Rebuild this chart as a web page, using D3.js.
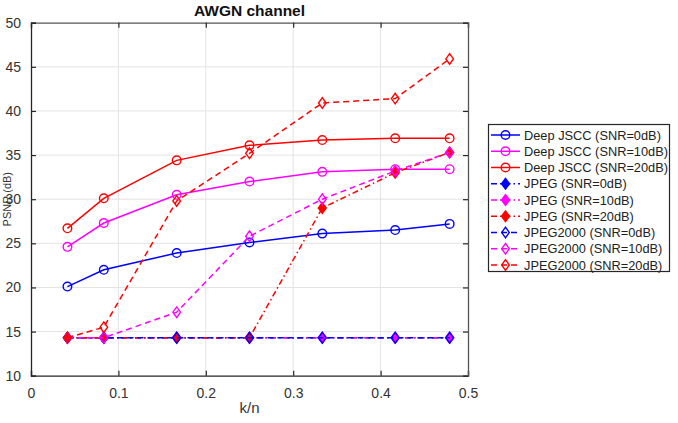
<!DOCTYPE html>
<html>
<head>
<meta charset="utf-8">
<script src="https://cdn.jsdelivr.net/npm/d3@7"></script>
<style>
  body { margin: 0; background: #fff; }
  svg text { font-family: "Liberation Sans", Arial, Helvetica, sans-serif; }
</style>
</head>
<body>
<script>

// data ************************************************************************

    var kn = [0.0417, 0.0833, 0.1667, 0.25, 0.3333, 0.4167, 0.479]; // k/n of each point

    var jsccSnr0  = [20.1, 22.0, 23.9, 25.1, 26.1, 26.5, 27.2];
    var jsccSnr10 = [24.6, 27.3, 30.5, 32.0, 33.1, 33.4, 33.4];
    var jsccSnr20 = [26.7, 30.1, 34.4, 36.1, 36.7, 36.9, 36.9];

    var jpegSnr0  = [14.3, 14.3, 14.3, 14.3, 14.3, 14.3, 14.3];
    var jpegSnr10 = [14.3, 14.3, 14.3, 14.3, 14.3, 14.3, 14.3];
    var jpegSnr20 = [14.3, 14.3, 14.3, 14.3, 29.0, 33.0, 35.3];

    var j2kSnr0  = [14.3, 14.3, 14.3, 14.3, 14.3, 14.3, 14.3];
    var j2kSnr10 = [14.3, 14.3, 17.2, 25.8, 30.0, 33.2, 35.3];
    var j2kSnr20 = [14.3, 15.5, 29.8, 35.2, 40.9, 41.4, 45.9];

    var seriesNames = [
      "Deep JSCC (SNR=0dB)", "Deep JSCC (SNR=10dB)", "Deep JSCC (SNR=20dB)",
      "JPEG (SNR=0dB)", "JPEG (SNR=10dB)", "JPEG (SNR=20dB)",
      "JPEG2000 (SNR=0dB)", "JPEG2000 (SNR=10dB)", "JPEG2000 (SNR=20dB)"
    ];
    var seriesValues = [jsccSnr0, jsccSnr10, jsccSnr20, jpegSnr0, jpegSnr10, jpegSnr20, j2kSnr0, j2kSnr10, j2kSnr20];

    var xTicks = [0, 0.1, 0.2, 0.3, 0.4, 0.5];
    var yTicks = [10, 15, 20, 25, 30, 35, 40, 45, 50];

// settings ********************************************************************

    var plot = { left: 31, right: 468, top: 22.7, bottom: 375.7 };
    var colors = ["#0000ff", "#ff00ff", "#ff0000"];
    var axisColor = "#262626";

    var styles = { // line style / marker per method
      jscc: { dash: null, marker: "circle" },
      jpeg: { dash: "6,3,1.5,3", marker: "fdiamond" },
      j2k:  { dash: "6,4", marker: "diamond" }
    };
    var methods = ["jscc", "jscc", "jscc", "jpeg", "jpeg", "jpeg", "j2k", "j2k", "j2k"];

// init ************************************************************************

    var svg = d3.select("body").append("svg")
        .attr("width", 678)
        .attr("height", 423);

    var x = d3.scaleLinear().domain([0, 0.5]).range([plot.left, plot.right]);
    var y = d3.scaleLinear().domain([10, 50]).range([plot.bottom, plot.top]);

    // grid
    svg.append("g").selectAll("line").data(xTicks.slice(1, -1)).join("line")
        .attr("x1", d => x(d)).attr("x2", d => x(d))
        .attr("y1", plot.top).attr("y2", plot.bottom)
        .attr("stroke", "#e3e3e3").attr("stroke-width", 1);
    svg.append("g").selectAll("line").data(yTicks.slice(1, -1)).join("line")
        .attr("y1", d => y(d)).attr("y2", d => y(d))
        .attr("x1", plot.left).attr("x2", plot.right)
        .attr("stroke", "#e3e3e3").attr("stroke-width", 1);

    // axes (ticks inward, box on)
    var xAxis = svg.append("g")
        .attr("transform", "translate(0," + plot.bottom + ")")
        .call(d3.axisBottom(x).tickValues(xTicks).tickSize(-5).tickPadding(12).tickFormat(d3.format("")));
    var xAxisTop = svg.append("g")
        .attr("transform", "translate(0," + plot.top + ")")
        .call(d3.axisTop(x).tickValues(xTicks).tickSize(-5).tickFormat(""));
    var yAxis = svg.append("g")
        .attr("transform", "translate(" + plot.left + ",0)")
        .call(d3.axisLeft(y).tickValues(yTicks).tickSize(-5).tickPadding(10));
    var yAxisRight = svg.append("g")
        .attr("transform", "translate(" + plot.right + ",0)")
        .call(d3.axisRight(y).tickValues(yTicks).tickSize(-5).tickFormat(""));

    [xAxis, xAxisTop, yAxis, yAxisRight].forEach(a => {
      a.select(".domain").attr("stroke", axisColor).attr("stroke-width", 1.3);
      a.selectAll(".tick line").attr("stroke", axisColor).attr("stroke-width", 1.2);
      a.selectAll(".tick text").attr("fill", "#333").style("font-size", "14px");
    });
    xAxisTop.select(".domain").attr("stroke", "#555");
    yAxisRight.select(".domain").attr("stroke", "#555");

    // labels
    svg.append("text")
        .attr("x", x(0.25)).attr("y", 16)
        .attr("text-anchor", "middle")
        .style("font-size", "15.5px").style("font-weight", "bold")
        .attr("fill", "#111")
        .text("AWGN channel");
    svg.append("text")
        .attr("x", x(0.25)).attr("y", 413)
        .attr("text-anchor", "middle")
        .style("font-size", "15px").attr("fill", "#333")
        .text("k/n");
    svg.append("text") // y label, squeezed against the left edge
        .attr("transform", "translate(11," + y(30) + ") rotate(-90)")
        .attr("text-anchor", "middle")
        .style("font-size", "11px").attr("fill", "#333")
        .text("PSNR (dB)");

// functions *******************************************************************

    function drawMarker(g, type, color, cx, cy) { // one marker
        if (type == "circle") {
          g.append("circle").attr("cx", cx).attr("cy", cy).attr("r", 4.3)
            .attr("fill", "none").attr("stroke", color).attr("stroke-width", 1.4);
        } else {
          var w = type == "diamond" ? 3.8 : 4, h = 5.3;
          g.append("path")
            .attr("d", "M" + cx + "," + (cy - h) + "L" + (cx + w) + "," + cy + "L" + cx + "," + (cy + h) + "L" + (cx - w) + "," + cy + "Z")
            .attr("fill", type == "fdiamond" ? color : "none")
            .attr("stroke", color).attr("stroke-width", 1.4);
        }
    }

    var line = d3.line().x(d => x(d[0])).y(d => y(d[1]));

    seriesValues.forEach((vals, i) => {
        var st = styles[methods[i]], color = colors[i % 3];
        var g = svg.append("g");
        var pts = vals.map((v, j) => [kn[j], v]);
        g.append("path").attr("d", line(pts))
          .attr("fill", "none").attr("stroke", color).attr("stroke-width", 1.5)
          .attr("stroke-dasharray", st.dash);
        pts.forEach(p => drawMarker(g, st.marker, color, x(p[0]), y(p[1])));
    });

    // legend
    var leg = svg.append("g");
    leg.append("rect")
        .attr("x", 488.5).attr("y", 124.5).attr("width", 181).attr("height", 147)
        .attr("fill", "#fff").attr("stroke", axisColor).attr("stroke-width", 1.2);
    seriesNames.forEach((name, i) => {
        var st = styles[methods[i]], color = colors[i % 3];
        var ly = 135 + i * 16.25;
        leg.append("line").attr("x1", 491).attr("x2", 520).attr("y1", ly).attr("y2", ly)
          .attr("stroke", color).attr("stroke-width", 1.5).attr("stroke-dasharray", st.dash);
        drawMarker(leg, st.marker, color, 505.5, ly);
        leg.append("text").attr("x", 524).attr("y", ly + 4.5)
          .style("font-size", "12.8px").attr("fill", "#222").text(name);
    });

</script>
</body>
</html>
